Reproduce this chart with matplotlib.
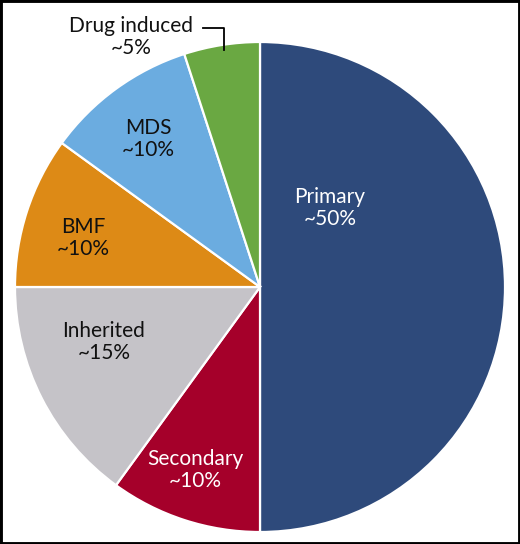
import matplotlib
matplotlib.use("Agg")
import matplotlib.pyplot as plt
from matplotlib.patches import Rectangle

categories = ["Primary", "Secondary", "Inherited", "BMF", "MDS", "Drug induced"]
values = [50, 10, 15, 10, 10, 5]
pct_labels = ["~50%", "~10%", "~15%", "~10%", "~10%", "~5%"]
colors = ["#2E4A7B", "#A5002A", "#C5C3C8", "#DD8A16", "#6BACE0", "#6AA842"]
text_colors = ["white", "white", "#111111", "#111111", "#111111", "#111111"]
# label centres in pixel coordinates (x from left, y from top)
label_pos = [(330, 208), (195, 470), (104, 342), (83, 238), (148, 139), (131, 37)]

W, H = 520, 544
fig = plt.figure(figsize=(W / 100, H / 100), dpi=100)
ax = fig.add_axes([0, 0, 1, 1])

cx, cy, r = 260, H - 287, 245
ax.pie(values, colors=colors, startangle=90, counterclock=False,
       center=(cx, cy), radius=r,
       wedgeprops=dict(edgecolor="white", linewidth=1.6))
ax.set_xlim(0, W)
ax.set_ylim(0, H)
ax.set_aspect("equal")
ax.axis("off")

for cat, pct, col, (px, py) in zip(categories, pct_labels, text_colors, label_pos):
    ax.text(px, H - py, f"{cat}\n{pct}", ha="center", va="center",
            fontsize=15, color=col, family="Lato", linespacing=1.15)

# leader line for Drug induced
ax.plot([203, 224, 224], [H - 28, H - 28, H - 50], color="black", lw=1.3)

fig.patches.append(Rectangle((0, 0), 1, 1, transform=fig.transFigure,
                             fill=False, edgecolor="black", linewidth=3.5))

fig.savefig("out.png", dpi=100)
